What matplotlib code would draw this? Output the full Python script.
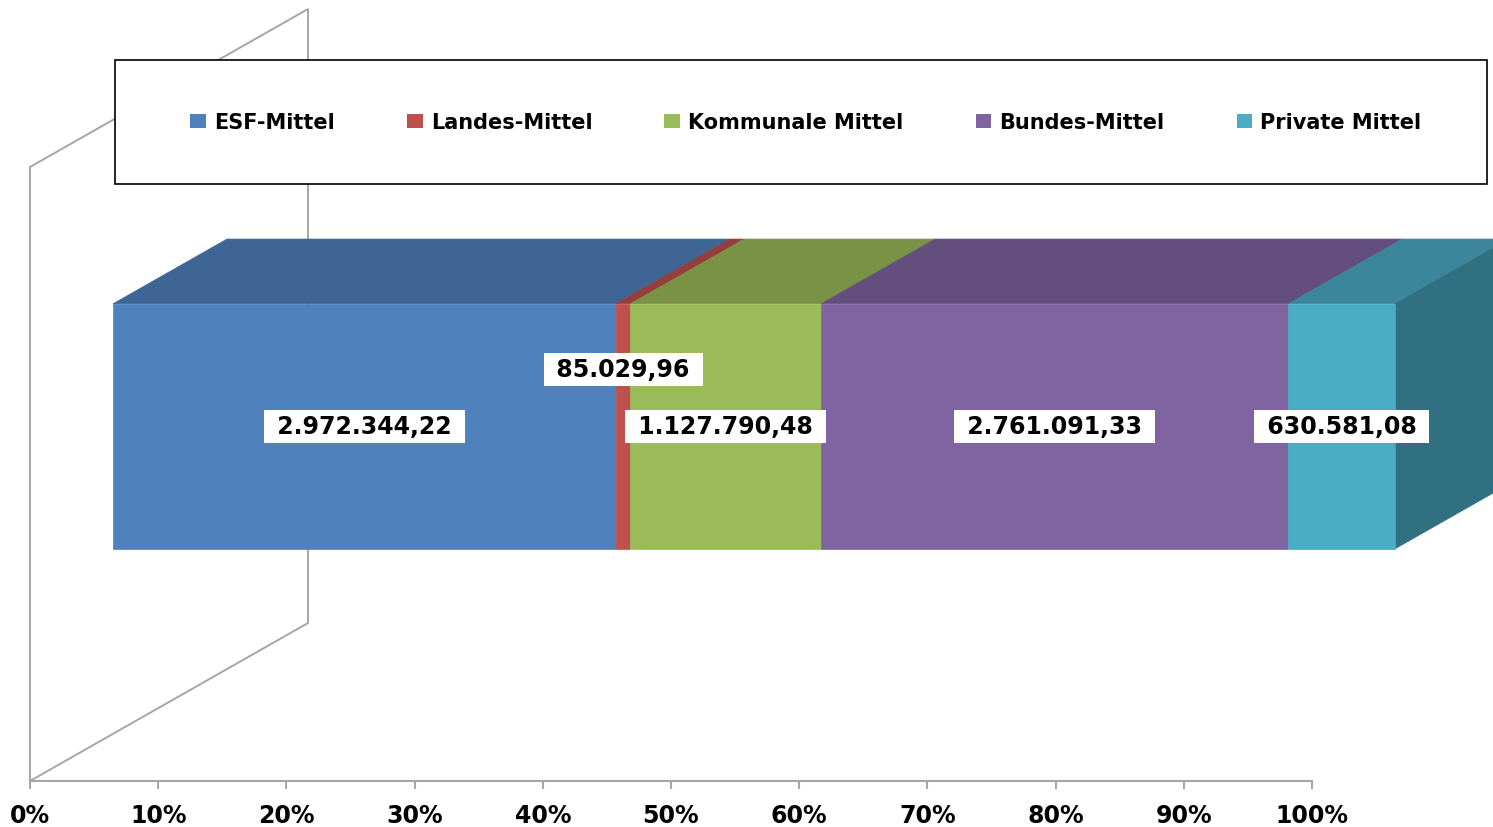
import numpy as np
import matplotlib
matplotlib.use("Agg")
import matplotlib.pyplot as plt
from matplotlib.patches import Polygon, Rectangle, Patch

# Data
categories = ["ESF-Mittel", "Landes-Mittel", "Kommunale Mittel", "Bundes-Mittel", "Private Mittel"]
values = [2972344.22, 85029.96, 1127790.48, 2761091.33, 630581.08]
colors = ["#4F81BD", "#C0504D", "#9BBB59", "#8064A2", "#4BACC6"]
tick_values = list(range(0, 101, 10))
tick_labels = [f"{t}%" for t in tick_values]


def de_format(v):
    s = f"{v:,.2f}"
    return s.replace(",", "X").replace(".", ",").replace("X", ".")


def shade(hex_color, f):
    rgb = np.array(matplotlib.colors.to_rgb(hex_color)) * f
    return tuple(rgb)


# Layout (pixel based projection of the Excel 3D look)
W, H = 1493, 828
PX_PER_PCT = 12.82
ORIGIN_X = 30
FLOOR_Y = 782
DX = 278 / PX_PER_PCT   # depth shift in x (percent units)
DY = 158                # depth shift in y (pixel units)
D_FRONT, D_BACK = 0.2986, 0.7086
Z_BOT, Z_TOP = 185, 430
WALL_TOP = 614
GRID_COLOR = "#A6A6A6"
LABEL_SHIFT = {1: 57}   # Landes label sits above the others


def proj(x, z, d):
    return (x + d * DX, z + d * DY)


plt.rcParams['font.family'] = ['DejaVu Sans']
fig = plt.figure(figsize=(W / 100, H / 100), dpi=100)
ax = fig.add_axes([0, 0, 1, 1])
ax.set_xlim(-ORIGIN_X / PX_PER_PCT, (W - ORIGIN_X) / PX_PER_PCT)
ax.set_ylim(-(H - FLOOR_Y), FLOOR_Y)
ax.patch.set_alpha(0)

# back wall
wall = [proj(0, 0, 0), proj(0, WALL_TOP, 0), proj(0, WALL_TOP, 1), proj(0, 0, 1), proj(0, 0, 0)]
wx, wy = zip(*wall)
ax.plot(wx, wy, color=GRID_COLOR, lw=1.4, solid_joinstyle="miter", zorder=1)

# horizontal axis
for s in ["top", "left", "right"]:
    ax.spines[s].set_visible(False)
ax.spines["bottom"].set_position(("data", 0))
ax.spines["bottom"].set_bounds(0, 100)
ax.spines["bottom"].set_color(GRID_COLOR)
ax.spines["bottom"].set_linewidth(1.5)
ax.set_yticks([])
ax.set_xticks(tick_values)
ax.set_xticklabels(tick_labels, fontsize=17, fontweight="bold")
ax.tick_params(axis="x", direction="out", length=6, width=1.5, color=GRID_COLOR, pad=10)

# stacked 3D bar
total = sum(values)
pct = np.array(values) / total * 100
right = np.cumsum(pct)
left = right - pct

for i, (l, r, c) in enumerate(zip(left, right, colors)):
    top = [proj(l, Z_TOP, D_FRONT), proj(r, Z_TOP, D_FRONT), proj(r, Z_TOP, D_BACK), proj(l, Z_TOP, D_BACK)]
    tc = shade(c, 0.78)
    ax.add_patch(Polygon(top, closed=True, fc=tc, ec=tc, lw=0.5, zorder=3))
    if i == len(values) - 1:
        side = [proj(r, Z_BOT, D_FRONT), proj(r, Z_TOP, D_FRONT), proj(r, Z_TOP, D_BACK), proj(r, Z_BOT, D_BACK)]
        sc = shade(c, 0.65)
        ax.add_patch(Polygon(side, closed=True, fc=sc, ec=sc, lw=0.5, zorder=3))
    front = [proj(l, Z_BOT, D_FRONT), proj(r, Z_BOT, D_FRONT), proj(r, Z_TOP, D_FRONT), proj(l, Z_TOP, D_FRONT)]
    ax.add_patch(Polygon(front, closed=True, fc=c, ec=c, lw=0.5, zorder=4))

# data labels
for i, (l, r, v) in enumerate(zip(left, right, values)):
    cx, cy = proj((l + r) / 2, (Z_BOT + Z_TOP) / 2, D_FRONT)
    cy += LABEL_SHIFT.get(i, 0)
    ax.text(cx, cy, " " + de_format(v) + " ", ha="center", va="center",
            fontsize=17, fontweight="bold", color="black", zorder=6,
            bbox=dict(boxstyle="square,pad=0.2", fc="white", ec="none"))

# legend box
fig.add_artist(Rectangle((115 / W, 1 - 185 / H), 1372 / W, 124 / H, transform=fig.transFigure,
                         fc="white", ec="black", lw=1.2, zorder=2))
handles = [Patch(facecolor=c, edgecolor="none", label=n) for n, c in zip(categories, colors)]
leg = fig.legend(handles=handles, loc="center", bbox_to_anchor=(806 / W, 1 - 123 / H), ncol=5,
                 frameon=False, prop={"size": 15, "weight": "bold"}, handlelength=0.75,
                 handleheight=0.65, handletextpad=0.4, columnspacing=3.45)
leg.set_zorder(5)

fig.savefig("out.png", dpi=100)
